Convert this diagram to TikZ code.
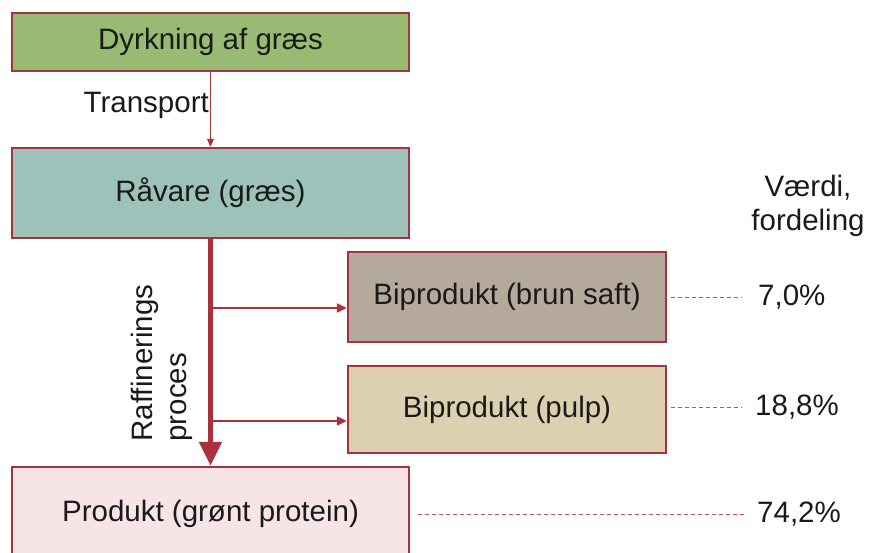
\documentclass[tikz,border=0pt]{standalone}
\usepackage{fontspec}
\setmainfont{Liberation Sans}
\usetikzlibrary{arrows.meta}
\definecolor{bordr}{HTML}{A3343F}
\definecolor{arrc}{HTML}{A8323E}
\definecolor{dashc}{HTML}{B85560}
\definecolor{cgreen}{HTML}{98BA72}
\definecolor{cteal}{HTML}{9DC2BA}
\definecolor{cbrown}{HTML}{B5A99B}
\definecolor{ctan}{HTML}{DDD0B0}
\definecolor{cpink}{HTML}{F6E4E6}
\definecolor{txt}{HTML}{1A1A1A}
\tikzset{
  box/.style={draw=bordr, line width=2.4pt, inner sep=0pt, text=txt,
    font=\fontsize{29.5}{34}\selectfont},
  lbl/.style={text=txt, font=\fontsize{29.5}{34}\selectfont, inner sep=0pt},
  dashln/.style={draw=dashc, line width=0.9pt, dash pattern=on 4pt off 3pt},
  thinarr/.style={draw=arrc, line width=1pt, -{Triangle[length=8pt,width=7pt]}},
  brarr/.style={draw=arrc, line width=2.2pt, -{Triangle[length=10pt,width=9pt]}},
  bigarr/.style={draw=arrc, line width=5pt, -{Triangle[length=24pt,width=22pt]}}
}
\begin{document}
\begin{tikzpicture}[x=1pt,y=-1pt]
\useasboundingbox (0,0) rectangle (871,553);
\clip (0,0) rectangle (871,553);
\node[box, fill=cgreen, minimum width=397pt, minimum height=58pt] (b1) at (210.5,42) {Dyrkning af græs};
\node[box, fill=cteal, minimum width=397pt, minimum height=90pt] (b2) at (210.5,193) {Råvare (græs)};
\node[box, fill=cbrown, minimum width=318pt, minimum height=90pt] (b3) at (507,297) {Biprodukt (brun saft)};
\node[box, fill=ctan, minimum width=318pt, minimum height=87pt] (b4) at (507,409.5) {Biprodukt (pulp)};
\node[box, fill=cpink, minimum width=397pt, minimum height=94pt] (b5) at (210.5,514) {Produkt (grønt protein)};

\draw[thinarr] (b1.south) -- (b2.north);
\node[lbl, anchor=east] (tr) at (209,105) {Transport};

\draw[bigarr] (b2.south) -- (b5.north);
\coordinate (j1) at (212,308);
\coordinate (j2) at (212,421);
\draw[brarr] (j1) -- (j1 -| b3.west);
\draw[brarr] (j2) -- (j2 -| b4.west);

\node[lbl, rotate=90, align=left] (raf) at (162,363) {Raffinerings\\proces};

\node[lbl, align=center] (vd) at (808,206) {Værdi,\\fordeling};
\node[lbl, anchor=west] (v1) at (758,297) {7,0\%};
\node[lbl, anchor=west] (v2) at (755,407) {18,8\%};
\node[lbl, anchor=west] (v3) at (757,514) {74,2\%};
\coordinate (d1) at (742,297);
\coordinate (d2) at (742,407);
\coordinate (d3) at (746,514);
\draw[dashln] ([xshift=4pt]b3.east) -- (d1);
\draw[dashln] ([xshift=4pt]b4.east |- d2) -- (d2);
\draw[dashln] ([xshift=8pt]b5.east) -- (d3);
\end{tikzpicture}
\end{document}
